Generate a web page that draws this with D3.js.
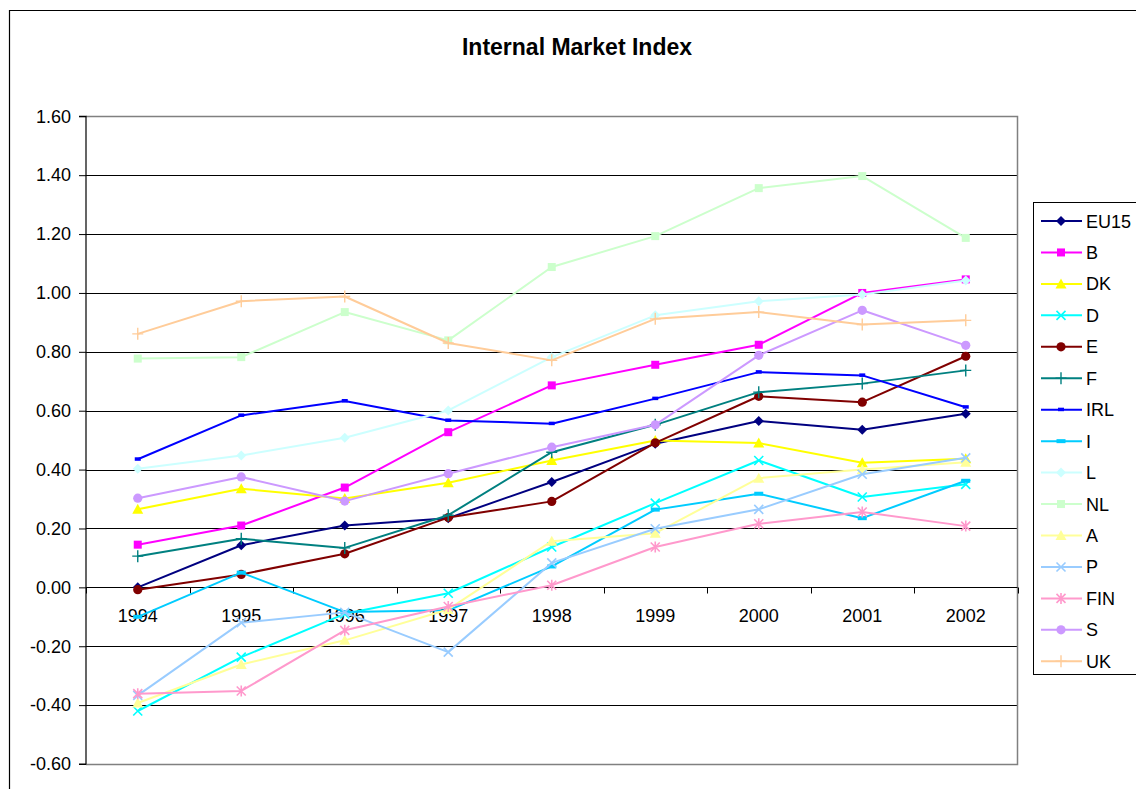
<!DOCTYPE html>
<html>
<head>
<meta charset="utf-8">
<script src="https://cdn.jsdelivr.net/npm/d3@7"></script>
<style>
  html, body { margin: 0; padding: 0; background: #fff; }
  svg { display: block; font-family: Arial, "Liberation Sans", sans-serif; }
</style>
</head>
<body>
<svg id="chart" width="1136" height="789"></svg>
<script>
const years = ["1994","1995","1996","1997","1998","1999","2000","2001","2002"];
const yTicks = [-0.6,-0.4,-0.2,0,0.2,0.4,0.6,0.8,1.0,1.2,1.4,1.6];
const seriesNames = ["EU15","B","DK","D","E","F","IRL","I","L","NL","A","P","FIN","S","UK"];
const EU15 = [0.00, 0.143, 0.21, 0.235, 0.358, 0.488, 0.565, 0.535, 0.59];
const B    = [0.145, 0.21, 0.339, 0.527, 0.686, 0.756, 0.824, 1.00, 1.046];
const DK   = [0.265, 0.335, 0.302, 0.355, 0.431, 0.499, 0.49, 0.423, 0.437];
const D    = [-0.42, -0.237, -0.09, -0.02, 0.137, 0.286, 0.431, 0.307, 0.35];
const E    = [-0.008, 0.044, 0.114, 0.237, 0.292, 0.491, 0.649, 0.629, 0.785];
const F    = [0.106, 0.165, 0.134, 0.245, 0.459, 0.552, 0.663, 0.692, 0.737];
const IRL  = [0.435, 0.584, 0.633, 0.567, 0.556, 0.641, 0.731, 0.72, 0.612];
const I    = [-0.10, 0.05, -0.084, -0.078, 0.071, 0.264, 0.318, 0.235, 0.362];
const L    = [0.403, 0.448, 0.508, 0.601, 0.782, 0.924, 0.972, 0.995, 1.042];
const NL   = [0.777, 0.782, 0.935, 0.839, 1.088, 1.193, 1.356, 1.397, 1.187];
const A    = [-0.393, -0.262, -0.18, -0.075, 0.157, 0.184, 0.371, 0.40, 0.425];
const P    = [-0.367, -0.12, -0.085, -0.22, 0.083, 0.199, 0.265, 0.384, 0.44];
const FIN  = [-0.361, -0.352, -0.146, -0.065, 0.007, 0.137, 0.216, 0.256, 0.208];
const S    = [0.303, 0.375, 0.293, 0.386, 0.476, 0.552, 0.788, 0.941, 0.822];
const UK   = [0.861, 0.972, 0.988, 0.83, 0.771, 0.912, 0.935, 0.893, 0.907];
const seriesValues = [EU15,B,DK,D,E,F,IRL,I,L,NL,A,P,FIN,S,UK];
const seriesColors = ["#000080","#FF00FF","#FFFF00","#00FFFF","#800000","#008080","#0000FF","#00CCFF","#CCFFFF","#CCFFCC","#FFFF99","#99CCFF","#FF99CC","#CC99FF","#FFCC99"];
const seriesMarkers = ["diamond","square","triangle","x","circle","plus","dash","wdash","diamond","square","triangle","x","star","circle","plus"];

const svg = d3.select("#chart");
const pLeft = 86, pRight = 1017.5, pTop = 116.3, pBottom = 764;

const x = d3.scaleBand().domain(years).range([pLeft, pRight]).padding(0);
const y = d3.scaleLinear().domain([-0.6, 1.6]).range([pBottom, pTop]);
const cx = d => x(d) + x.bandwidth() / 2;

// chart area border
svg.append("path").attr("d", "M9.5,1200 V10.5 H1200").attr("fill","none").attr("stroke","#000").attr("stroke-width",1.2);

// title
svg.append("text").attr("x", 577).attr("y", 55).attr("text-anchor","middle")
  .attr("font-weight","bold").attr("font-size", 23).text("Internal Market Index");

// gridlines
svg.append("g").selectAll("line").data(yTicks.filter(t => t > -0.6 && t < 1.6)).join("line")
  .attr("x1", pLeft).attr("x2", pRight)
  .attr("y1", d => Math.round(y(d)) + 0.5).attr("y2", d => Math.round(y(d)) + 0.5)
  .attr("stroke", "#000").attr("stroke-width", 1);

// plot area border (top, right, bottom) gray
svg.append("path")
  .attr("d", `M${pLeft},${Math.round(pTop)+0.5} H${pRight} V${Math.round(pBottom)+0.5} H${pLeft}`)
  .attr("fill","none").attr("stroke","#808080").attr("stroke-width",1.5);

// y axis
const yAxis = d3.axisLeft(y).tickValues(yTicks).tickSize(7).tickPadding(8).tickFormat(d => d.toFixed(2));
const gy = svg.append("g").attr("transform", `translate(${pLeft},0)`).call(yAxis);
gy.select(".domain").attr("stroke","#000").attr("stroke-width",1.2).attr("d", `M-7,${y(1.6)}H0V${y(-0.6)}H-7`);
gy.selectAll(".tick line").attr("stroke","#000");
gy.selectAll(".tick text").attr("font-size", 18).attr("fill","#000").attr("font-family","Arial, 'Liberation Sans', sans-serif");

// x axis at zero
const y0 = Math.round(y(0)) + 0.5;
svg.append("line").attr("x1", pLeft).attr("x2", pRight).attr("y1", y0).attr("y2", y0)
  .attr("stroke","#000").attr("stroke-width",1.2);
const boundaries = years.map(d => x(d)).concat([pRight]);
svg.append("g").selectAll("line").data(boundaries).join("line")
  .attr("x1", d => Math.round(d)+0.5).attr("x2", d => Math.round(d)+0.5)
  .attr("y1", y0).attr("y2", y0 + 6).attr("stroke","#000");
svg.append("g").selectAll("text").data(years).join("text")
  .attr("x", d => cx(d)).attr("y", y0 + 34).attr("text-anchor","middle")
  .attr("font-size", 18).attr("fill","#000").text(d => d);

// marker drawing
function drawMarker(g, type, color) {
  switch (type) {
    case "diamond":
      g.append("path").attr("d","M0,-5L5,0L0,5L-5,0Z").attr("fill",color); break;
    case "square":
      g.append("rect").attr("x",-4).attr("y",-4).attr("width",8).attr("height",8).attr("fill",color); break;
    case "triangle":
      g.append("path").attr("d","M0,-5.5L5.5,4.5L-5.5,4.5Z").attr("fill",color); break;
    case "circle":
      g.append("circle").attr("r",4.6).attr("fill",color); break;
    case "x":
      g.append("path").attr("d","M-4.5,-4.5L4.5,4.5M-4.5,4.5L4.5,-4.5").attr("stroke",color).attr("stroke-width",1.6).attr("fill","none"); break;
    case "star":
      g.append("path").attr("d","M-4.5,-4.5L4.5,4.5M-4.5,4.5L4.5,-4.5M0,-5.5L0,5.5").attr("stroke",color).attr("stroke-width",1.6).attr("fill","none"); break;
    case "plus":
      g.append("path").attr("d","M-5.5,0L5.5,0M0,-6L0,6").attr("stroke",color).attr("stroke-width",1.4).attr("fill","none"); break;
    case "dash":
      g.append("rect").attr("x",-3).attr("y",-2).attr("width",6).attr("height",3.5).attr("fill",color); break;
    case "wdash":
      g.append("rect").attr("x",-4.5).attr("y",-2).attr("width",9).attr("height",4).attr("fill",color); break;
  }
}

// series
const line = d3.line().x((d, i) => cx(years[i])).y(d => y(d));
seriesNames.forEach((name, si) => {
  const vals = seriesValues[si];
  const g = svg.append("g");
  g.append("path").attr("d", line(vals)).attr("fill","none")
    .attr("stroke", seriesColors[si]).attr("stroke-width", 2).attr("stroke-linejoin","round");
  vals.forEach((v, i) => {
    const mg = g.append("g").attr("transform", `translate(${cx(years[i])},${y(v)})`);
    drawMarker(mg, seriesMarkers[si], seriesColors[si]);
  });
});

// legend
const lg = svg.append("g");
lg.append("rect").attr("x", 1033.5).attr("y", 202.5).attr("width", 200).attr("height", 472)
  .attr("fill","#fff").attr("stroke","#000").attr("stroke-width",1);
seriesNames.forEach((name, si) => {
  const ly = 221 + si * 31.45;
  lg.append("line").attr("x1", 1041).attr("x2", 1082).attr("y1", ly).attr("y2", ly)
    .attr("stroke", seriesColors[si]).attr("stroke-width", 2);
  const mg = lg.append("g").attr("transform", `translate(1061,${ly})`);
  drawMarker(mg, seriesMarkers[si], seriesColors[si]);
  lg.append("text").attr("x", 1086).attr("y", ly + 6.5).attr("font-size", 18).attr("fill","#000").text(name);
});
</script>
</body>
</html>
